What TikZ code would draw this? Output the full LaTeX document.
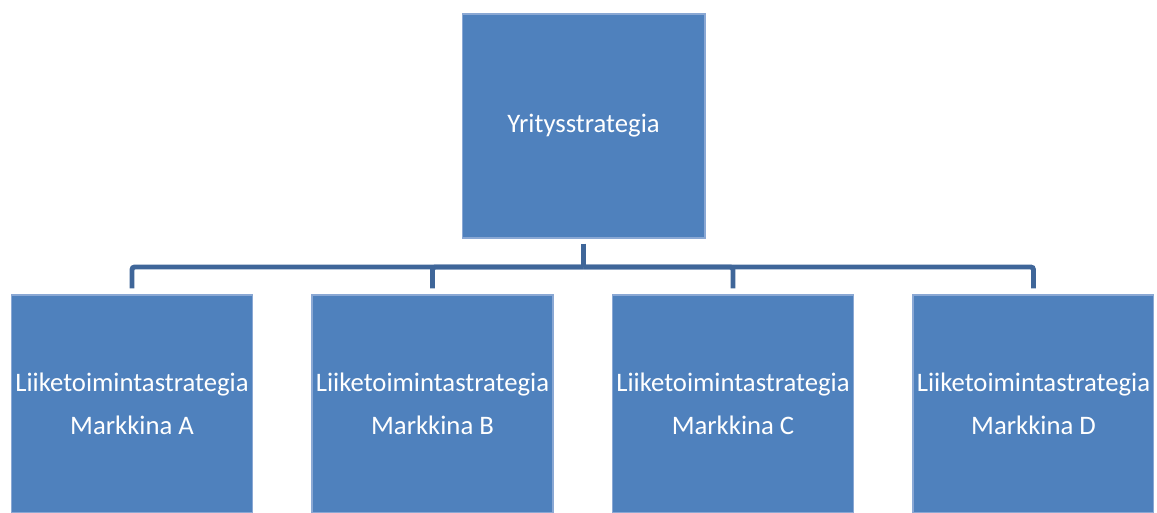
\documentclass[tikz,border=0pt]{standalone}
\usepackage{fontspec}
\setmainfont{Carlito}
\usetikzlibrary{positioning}
\definecolor{boxblue}{HTML}{4F81BD}
\definecolor{boxedge}{HTML}{8AA8D4}
\definecolor{linkblue}{HTML}{3F6699}

\begin{document}
\begin{tikzpicture}[x=0.02cm, y=-0.02cm, node distance=1.17cm,
  every node/.style={draw=boxedge, line width=0.6pt, fill=boxblue, text=white, align=center,
    font=\fontsize{15.2}{24.5}\selectfont, inner sep=0pt},
  link/.style={draw=linkblue, line width=2.8pt, rounded corners=1.5pt}]
\useasboundingbox (0,0) rectangle (1157,513);
\node (Y) [minimum width=4.86cm, minimum height=4.48cm] at (583.5,126) {Yritysstrategia};
\node (A) [minimum width=4.82cm, minimum height=4.36cm] at (132,404) {Liiketoimintastrategia\\Markkina A};
\node (B) [minimum width=4.82cm, minimum height=4.36cm, right=of A] {Liiketoimintastrategia\\Markkina B};
\node (C) [minimum width=4.82cm, minimum height=4.36cm, right=of B] {Liiketoimintastrategia\\Markkina C};
\node (D) [minimum width=4.82cm, minimum height=4.36cm, right=of C] {Liiketoimintastrategia\\Markkina D};
\coordinate (bus) at (583.5,267);
\draw[link, shorten <=0.1cm] (Y) -- (bus);
\foreach \n in {A,B,C,D}
  \draw[link, shorten >=0.12cm] (bus) -| (\n);
\end{tikzpicture}
\end{document}
